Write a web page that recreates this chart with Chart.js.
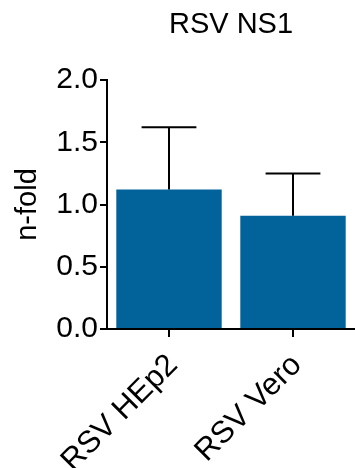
<!DOCTYPE html>
<html>
<head>
<meta charset="utf-8">
<script src="https://cdn.jsdelivr.net/npm/chart.js@4"></script>
<style>
    html, body { margin: 0; padding: 0; background: #fff; }
    #wrap { width: 355px; height: 468px; }
</style>
</head>
<body>
<div id="wrap"><canvas id="barChart" width="355" height="468"></canvas></div>
<script>
const categories = ['RSV HEp2', 'RSV Vero'];
const means = [1.12, 0.91];
const upperErrors = [0.50, 0.34];
const yTicks = [0, 0.5, 1.0, 1.5, 2.0];

const font = "'Liberation Sans', Arial, sans-serif";

// draws the title over the plot area and the upper error bars
const extras = {
    id: 'extras',
    afterDatasetsDraw(chart) {
        const ctx = chart.ctx;
        const yScale = chart.scales.y;
        const meta = chart.getDatasetMeta(0);
        ctx.save();
        ctx.strokeStyle = '#000';
        ctx.lineWidth = 2;
        meta.data.forEach((bar, i) => {
            const top = yScale.getPixelForValue(means[i] + upperErrors[i]);
            const half = bar.width * 0.26;
            ctx.beginPath();
            ctx.moveTo(bar.x, bar.y);
            ctx.lineTo(bar.x, top);
            ctx.moveTo(bar.x - half, top);
            ctx.lineTo(bar.x + half, top);
            ctx.stroke();
        });
        const area = chart.chartArea;
        ctx.fillStyle = '#000';
        ctx.font = '29px ' + font;
        ctx.textAlign = 'center';
        ctx.textBaseline = 'alphabetic';
        ctx.fillText('RSV NS1', (area.left + area.right) / 2, 33);
        ctx.restore();
    }
};

new Chart(document.getElementById('barChart'), {
    type: 'bar',
    data: {
        labels: categories,
        datasets: [{
            data: means,
            backgroundColor: '#02629a',
            borderWidth: 0,
            barPercentage: 0.85,
            categoryPercentage: 1.0
        }]
    },
    options: {
        responsive: false,
        animation: false,
        layout: { padding: { top: 80, right: 0, left: 0, bottom: 0 } },
        plugins: {
            legend: { display: false },
            tooltip: { enabled: false },
            title: { display: false }
        },
        scales: {
            x: {
                grid: {
                    offset: false,
                    drawOnChartArea: false,
                    drawTicks: true,
                    tickLength: 8,
                    color: '#000',
                    lineWidth: 2
                },
                border: { color: '#000', width: 2 },
                ticks: {
                    color: '#000',
                    font: { family: font, size: 31 },
                    minRotation: 45,
                    maxRotation: 45,
                    padding: 10,
                    labelOffset: 4
                },
                afterFit(scale) { scale.height = 139; }
            },
            y: {
                min: 0,
                max: 2,
                afterBuildTicks(scale) { scale.ticks = yTicks.map(v => ({ value: v })); },
                grid: {
                    drawOnChartArea: false,
                    drawTicks: true,
                    tickLength: 7,
                    color: '#000',
                    lineWidth: 2
                },
                border: { color: '#000', width: 2 },
                ticks: {
                    color: '#000',
                    font: { family: font, size: 30 },
                    padding: 2,
                    callback: v => v.toFixed(1)
                },
                title: {
                    display: true,
                    text: 'n-fold',
                    color: '#000',
                    font: { family: font, size: 29 },
                    padding: { top: 11, bottom: 0 }
                },
                afterFit(scale) { scale.width = 107; }
            }
        }
    },
    plugins: [extras]
});
</script>
</body>
</html>
